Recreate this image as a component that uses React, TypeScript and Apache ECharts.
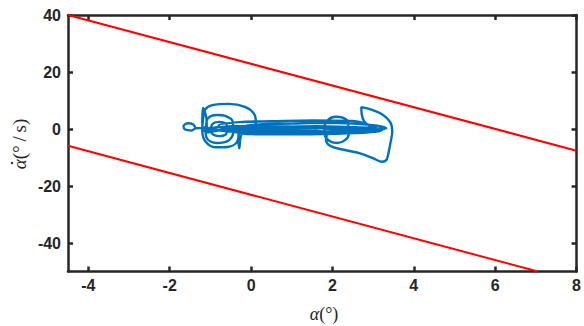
import React, { useEffect, useRef } from "react";
import * as echarts from "echarts";

const xTicks = [-4, -2, 0, 2, 4, 6, 8];
const yTicks = [-40, -20, 0, 20, 40];
const xRange = [-4.5, 8];
const yRange = [-50, 40];

const upperBound = [
  [-4.5, 40],
  [8, -7.6],
];
const lowerBound = [
  [-4.5, -5.9],
  [7.05, -50],
];

// trajectory alpha (deg), alpha-dot (deg/s)
const trajX = [
  0.0, 0.8, 1.6, 2.4, 3.0, 3.28,
  2.6, 1.8, 1.0, 0.2, -0.45,
  -0.58, -0.62, -0.78, -0.94, -0.99, -0.94, -0.78, -0.62, -0.57,
  0.2, 1.0, 1.8, 2.5, 3.1, 3.32,
  2.8, 2.4, 2.38, 2.25, 2.08, 1.9, 1.8, 1.82, 1.95, 2.12, 2.3, 2.4, 2.35,
  1.5, 0.5, -0.4, -0.9,
  -1.12, -1.08, -0.85, -0.55, -0.44, -0.45, -0.62, -0.85, -1.07, -1.13,
  -1.35, -1.42, -1.55, -1.66, -1.62, -1.48, -1.36, -1.2,
  -0.6, 0.4, 1.3, 2.2, 2.9, 3.22,
  2.95, 2.78, 2.72, 2.71,
  2.96, 3.22, 3.42, 3.47, 3.43, 3.38, 3.33, 3.22, 3.02, 2.72, 2.25, 1.95, 1.84, 1.88,
  1.2, 0.3, -0.3, -0.7,
  -0.3, -0.34, -0.58, -0.88, -1.12, -1.2, -1.18, -1.13, -0.95, -0.55, -0.15, 0.07, 0.12, 0.02,
  -0.3, -0.31, -0.29, -0.26, -0.2,
  -0.9, -1.17, -1.2, -1.18, -1.1, -1.08,
  -0.5, 0.5, 1.5, 2.5, 3.15,
  2.5, 1.5, 0.5, -0.3, -0.8,
  0.0, 1.0, 2.0, 2.9, 3.2,
];
const trajY = [
  0.3, 0.8, 1.0, 0.7, 0.4, 0.0,
  -0.7, -0.9, -0.8, -0.6, -0.3,
  0.8, 2.0, 2.5, 1.9, 0.0, -1.9, -2.5, -1.9, -0.3,
  1.6, 1.9, 2.2, 1.9, 1.2, 0.3,
  -0.3, 0.2, 2.6, 4.0, 4.3, 3.3, 0.5, -2.5, -4.4, -4.9, -4.0, -1.8, -0.6,
  0.4, 1.0, 1.0, 0.5,
  0.0, -3.4, -4.9, -4.0, -1.0, 2.5, 4.5, 4.9, 3.6, 0.6,
  0.3, 1.6, 2.0, 1.0, -0.2, -0.5, 0.2, 0.4,
  -0.8, -1.2, -1.3, -1.4, -1.1, -0.4,
  0.8, 2.6, 5.2, 7.7,
  6.8, 5.2, 2.4, -1.0, -4.6, -8.2, -10.8, -11.5, -10.4, -8.7, -7.2, -6.0, -3.6, -1.6,
  -0.3, -0.1, 0.3, 0.2,
  -0.5, -4.4, -6.3, -6.4, -4.4, -0.5, 3.5, 6.8, 8.4, 8.8, 7.8, 5.4, 2.2, 0.8,
  0.2, -3.5, -6.8, -3.0, -0.4,
  -0.3, -0.6, 3.0, 7.4, 4.0, -1.2,
  0.0, 0.1, 0.3, 0.0, -0.1,
  2.8, 3.0, 2.7, 2.4, 1.2,
  -1.8, -1.9, -1.7, -1.2, -0.5,
];

const frame = "#262626";
const serif = "Liberation Serif, DejaVu Serif, serif";

export default function App() {
  const ref = useRef<HTMLDivElement>(null);
  useEffect(() => {
    if (!ref.current) return;
    const chart = echarts.init(ref.current, undefined, { renderer: "svg" });
    const traj = trajX.map((x, i) => [x, trajY[i]]);
    const axisLine = { show: true, onZero: false, lineStyle: { color: frame, width: 2.5 } };
    const tickX = { show: true, inside: true, length: 5, customValues: xTicks, lineStyle: { color: frame, width: 2.5 } };
    const tickY = { show: true, inside: true, length: 5, customValues: yTicks, lineStyle: { color: frame, width: 2.5 } };
    const labelStyle = {
      color: frame,
      fontWeight: "bold" as const,
      fontSize: 16,
      fontFamily: "Liberation Sans, Arial, sans-serif",
    };
    chart.setOption({
      animation: false,
      backgroundColor: "#ffffff",
      grid: { left: 68, right: 5, top: 15, bottom: 54.5, containLabel: false },
      xAxis: [
        {
          type: "value",
          position: "bottom",
          min: xRange[0],
          max: xRange[1],
          axisLine,
          axisTick: tickX,
          axisLabel: { ...labelStyle, customValues: xTicks, margin: 6 },
          splitLine: { show: false },
        },
        {
          type: "value",
          position: "top",
          min: xRange[0],
          max: xRange[1],
          axisLine,
          axisTick: tickX,
          axisLabel: { show: false },
          splitLine: { show: false },
        },
      ],
      yAxis: [
        {
          type: "value",
          position: "left",
          min: yRange[0],
          max: yRange[1],
          axisLine,
          axisTick: tickY,
          axisLabel: { ...labelStyle, customValues: yTicks, margin: 7 },
          splitLine: { show: false },
        },
        {
          type: "value",
          position: "right",
          min: yRange[0],
          max: yRange[1],
          axisLine,
          axisTick: tickY,
          axisLabel: { show: false },
          splitLine: { show: false },
        },
      ],
      series: [
        {
          type: "line",
          data: traj,
          showSymbol: false,
          smooth: 0.35,
          lineStyle: { color: "#0072BD", width: 2.4 },
          z: 3,
        },
        {
          type: "line",
          data: upperBound,
          showSymbol: false,
          lineStyle: { color: "#FF0000", width: 2 },
          z: 2,
        },
        {
          type: "line",
          data: lowerBound,
          showSymbol: false,
          lineStyle: { color: "#FF0000", width: 2 },
          z: 2,
        },
      ],
      graphic: [
        {
          type: "text",
          x: 324,
          y: 314,
          style: {
            text: "{a|α}(°)",
            align: "center",
            verticalAlign: "middle",
            fill: frame,
            fontSize: 18,
            fontFamily: serif,
            rich: { a: { fontStyle: "italic", fontSize: 18, fontFamily: serif, fill: frame } },
          },
        },
        {
          type: "text",
          x: 19,
          y: 144,
          rotation: Math.PI / 2,
          style: {
            text: "{a|α}(°\u2009/\u2009s)",
            align: "center",
            verticalAlign: "middle",
            fill: frame,
            fontSize: 19,
            fontFamily: serif,
            rich: { a: { fontStyle: "italic", fontSize: 19, fontFamily: serif, fill: frame } },
          },
        },
        {
          type: "circle",
          shape: { cx: 12, cy: 163, r: 1.2 },
          style: { fill: frame },
        },
      ],
    });
    return () => chart.dispose();
  }, []);
  return (
    <div
      ref={ref}
      style={{ position: "absolute", left: 0, top: 0, width: 584, height: 326, background: "#fff" }}
    />
  );
}
